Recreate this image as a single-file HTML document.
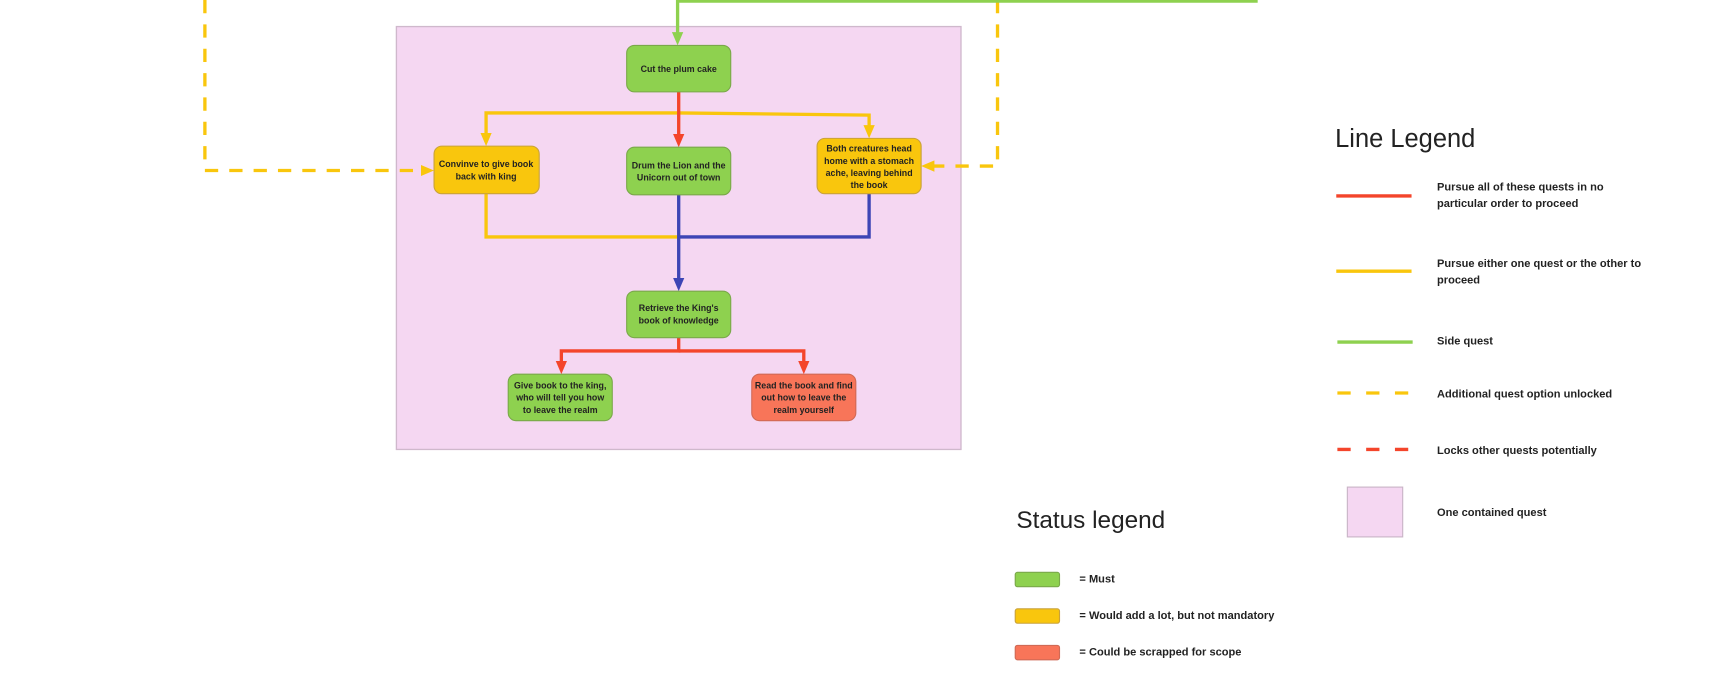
<!DOCTYPE html>
<html><head><meta charset="utf-8"><style>html,body{margin:0;padding:0;background:#fff}svg{display:block}</style></head><body>
<svg width="1736" height="693" viewBox="0 0 1568 626" xmlns="http://www.w3.org/2000/svg" font-family="Liberation Sans, sans-serif">
<defs>
<marker id="ag" markerWidth="4" markerHeight="4" refX="2" refY="2" orient="auto" markerUnits="strokeWidth"><path d="M0,0.3 L4,2 L0,3.7z" fill="#8ed14f"/></marker>
<marker id="ar" markerWidth="4" markerHeight="4" refX="2" refY="2" orient="auto" markerUnits="strokeWidth"><path d="M0,0.3 L4,2 L0,3.7z" fill="#f4452b"/></marker>
<marker id="ay" markerWidth="4" markerHeight="4" refX="2" refY="2" orient="auto" markerUnits="strokeWidth"><path d="M0,0.3 L4,2 L0,3.7z" fill="#f9c60d"/></marker>
<marker id="ab" markerWidth="4" markerHeight="4" refX="2" refY="2" orient="auto" markerUnits="strokeWidth"><path d="M0,0.3 L4,2 L0,3.7z" fill="#3d45b5"/></marker>
</defs>
<rect x="358" y="24" width="510" height="382" fill="#f5d7f2" stroke="#cfb8cc" stroke-width="1.2"/>
<!-- dashed yellow -->
<path d="M185,0 V154 H386" fill="none" stroke="#f9c60d" stroke-width="3" stroke-dasharray="12,10" marker-end="url(#ay)"/>
<path d="M901,0 V150 H838" fill="none" stroke="#f9c60d" stroke-width="3" stroke-dasharray="12,10" marker-end="url(#ay)"/>
<!-- green -->
<path d="M1136,1 H612 V35" fill="none" stroke="#8ed14f" stroke-width="3" marker-end="url(#ag)"/>
<!-- yellow -->
<path d="M613,102 H439 V126" fill="none" stroke="#f9c60d" stroke-width="3" marker-end="url(#ay)"/>
<path d="M613,102 L785,104 V119" fill="none" stroke="#f9c60d" stroke-width="3" marker-end="url(#ay)"/>
<path d="M439,175 V214 H613" fill="none" stroke="#f9c60d" stroke-width="3"/>
<!-- red -->
<path d="M613,83 V127" fill="none" stroke="#f4452b" stroke-width="3" marker-end="url(#ar)"/>
<!-- blue -->
<path d="M785,175 V214 H613" fill="none" stroke="#3d45b5" stroke-width="3"/>
<path d="M613,176 V257" fill="none" stroke="#3d45b5" stroke-width="3" marker-end="url(#ab)"/>
<!-- red bottom -->
<path d="M613,305 V317 H507 V332" fill="none" stroke="#f4452b" stroke-width="3" marker-end="url(#ar)"/>
<path d="M613,317 H726 V332" fill="none" stroke="#f4452b" stroke-width="3" marker-end="url(#ar)"/>
<!-- nodes -->
<g stroke-width="1" font-size="8" font-weight="bold" fill="#222" text-anchor="middle">
<rect x="566" y="41" width="94" height="42" rx="7" fill="#8ed14f" stroke="#7aa84a"/>
<text x="613" y="65">Cut the plum cake</text>
<rect x="392" y="132" width="95" height="43" rx="7" fill="#f9c60d" stroke="#c9a23a"/>
<text x="439" y="151">Convinve to give book</text><text x="439" y="162">back with king</text>
<rect x="566" y="133" width="94" height="43" rx="7" fill="#8ed14f" stroke="#7aa84a"/>
<text x="613" y="152">Drum the Lion and the</text><text x="613" y="163">Unicorn out of town</text>
<rect x="738" y="125" width="94" height="50" rx="7" fill="#f9c60d" stroke="#c9a23a"/>
<text x="785" y="137">Both creatures head</text><text x="785" y="148">home with a stomach</text><text x="785" y="159">ache, leaving behind</text><text x="785" y="170">the book</text>
<rect x="566" y="263" width="94" height="42" rx="7" fill="#8ed14f" stroke="#7aa84a"/>
<text x="613" y="281">Retrieve the King's</text><text x="613" y="292">book of knowledge</text>
<rect x="459" y="338" width="94" height="42" rx="7" fill="#8ed14f" stroke="#7aa84a"/>
<text x="506" y="351">Give book to the king,</text><text x="506" y="362">who will tell you how</text><text x="506" y="373">to leave the realm</text>
<rect x="679" y="338" width="94" height="42" rx="7" fill="#f87559" stroke="#d06a55"/>
<text x="726" y="351">Read the book and find</text><text x="726" y="362">out how to leave the</text><text x="726" y="373">realm yourself</text>
</g>
<!-- line legend -->
<text x="1206" y="133" font-size="23" fill="#222">Line Legend</text>
<line x1="1207" y1="177" x2="1275" y2="177" stroke="#f4452b" stroke-width="3"/>
<line x1="1207" y1="245" x2="1275" y2="245" stroke="#f9c60d" stroke-width="3"/>
<line x1="1208" y1="309" x2="1276" y2="309" stroke="#8ed14f" stroke-width="3"/>
<line x1="1208" y1="355" x2="1278" y2="355" stroke="#f9c60d" stroke-width="3" stroke-dasharray="12,14"/>
<line x1="1208" y1="406" x2="1280" y2="406" stroke="#f4452b" stroke-width="3" stroke-dasharray="12,14"/>
<rect x="1217" y="440" width="50" height="45" fill="#f5d7f2" stroke="#c8b4c6"/>
<g font-size="10" font-weight="bold" fill="#222">
<text x="1298" y="172">Pursue all of these quests in no</text>
<text x="1298" y="187">particular order to proceed</text>
<text x="1298" y="241">Pursue either one quest or the other to</text>
<text x="1298" y="256">proceed</text>
<text x="1298" y="311">Side quest</text>
<text x="1298" y="359">Additional quest option unlocked</text>
<text x="1298" y="410">Locks other quests potentially</text>
<text x="1298" y="466">One contained quest</text>
<text x="975" y="526">= Must</text>
<text x="975" y="559">= Would add a lot, but not mandatory</text>
<text x="975" y="592">= Could be scrapped for scope</text>
</g>
<text x="918" y="477" font-size="22" fill="#222">Status legend</text>
<rect x="917" y="517" width="40" height="13" rx="2" fill="#8ed14f" stroke="#7aa84a"/>
<rect x="917" y="550" width="40" height="13" rx="2" fill="#f9c60d" stroke="#c9a23a"/>
<rect x="917" y="583" width="40" height="13" rx="2" fill="#f87559" stroke="#d06a55"/>
</svg>
</body></html>
